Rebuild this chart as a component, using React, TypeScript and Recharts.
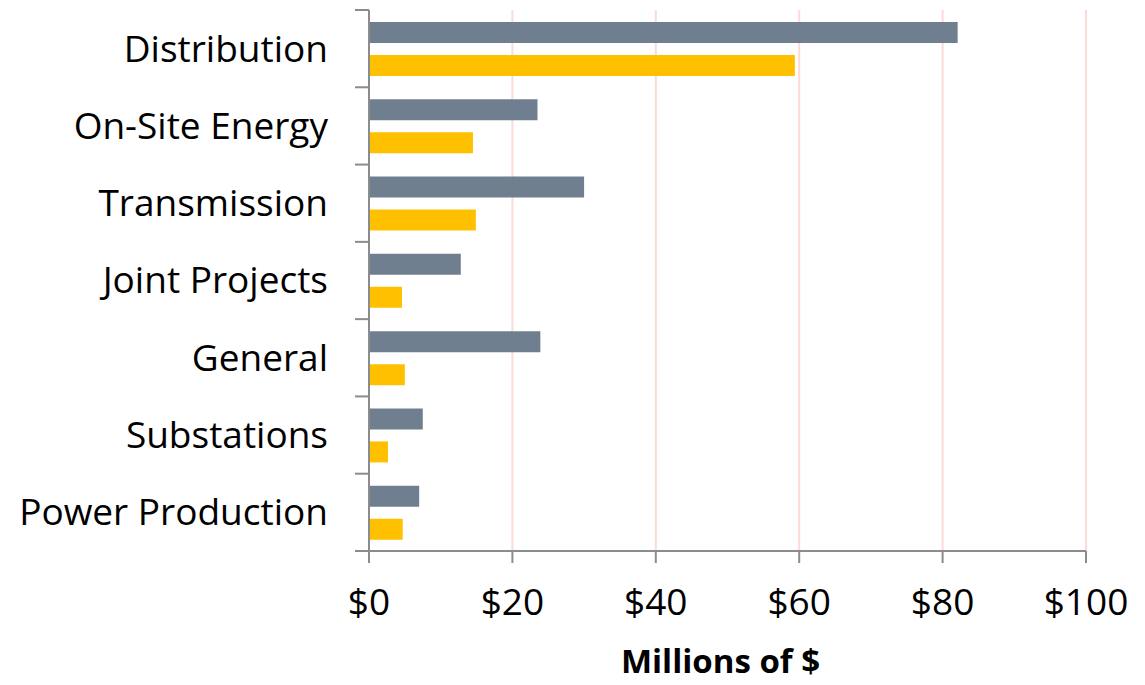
import { BarChart, Bar, XAxis, YAxis, CartesianGrid } from 'recharts'

const categories = [
  'Distribution',
  'On-Site Energy',
  'Transmission',
  'Joint Projects',
  'General',
  'Substations',
  'Power Production',
]
const grayValues = [82.1, 23.5, 30.0, 12.8, 23.9, 7.5, 7.0]
const yellowValues = [59.4, 14.5, 14.9, 4.6, 5.0, 2.65, 4.7]
const xTicks = [0, 20, 40, 60, 80, 100]

const data = categories.map((name, i) => ({
  name,
  gray: grayValues[i],
  yellow: yellowValues[i],
}))

const FONT = '"Open Sans", "Noto Sans", sans-serif'
const AXIS = '#8c8c8c'

// category ticks sit on the band edges, labels in the middle
const CategoryTick = (props: any) => {
  const { x, y, payload, index } = props
  const half = payload?.offset ?? 38.6
  return (
    <g>
      <line x1={x - 14} x2={x} y1={y - half} y2={y - half} stroke={AXIS} strokeWidth={2} />
      {index === categories.length - 1 && (
        <line x1={x - 14} x2={x} y1={y + half} y2={y + half} stroke={AXIS} strokeWidth={2} />
      )}
      <text x={x - 41} y={y} dy="0.35em" textAnchor="end" fontSize={37} fontFamily={FONT} fill="#000">
        {payload.value}
      </text>
    </g>
  )
}

export default function App() {
  return (
    <div style={{ width: 1145, height: 685, background: '#fff' }}>
      <style>{'body{margin:0}'}</style>
      <BarChart
        width={1145}
        height={685}
        data={data}
        layout="vertical"
        margin={{ top: 10, right: 59, bottom: 0, left: 0 }}
        barCategoryGap={12}
        barGap={12}
      >
        <CartesianGrid horizontal={false} stroke="#fadcd4" strokeWidth={2} />
        <XAxis
          type="number"
          domain={[0, 100]}
          ticks={xTicks}
          interval={0}
          tickFormatter={(v) => `$${v}`}
          tick={{ fontSize: 37, fontFamily: FONT, fill: '#000' }}
          tickSize={12}
          tickMargin={26}
          axisLine={{ stroke: AXIS, strokeWidth: 2 }}
          tickLine={{ stroke: AXIS, strokeWidth: 2 }}
          height={134}
          label={{
            value: 'Millions of $',
            position: 'insideBottom',
            offset: 12,
            dx: -7,
            fontSize: 33,
            fontWeight: 700,
            fontFamily: FONT,
            fill: '#000',
          }}
        />
        <YAxis
          type="category"
          dataKey="name"
          width={369}
          tickSize={0}
          tickMargin={0}
          tickLine={false}
          axisLine={{ stroke: AXIS, strokeWidth: 2 }}
          tick={<CategoryTick />}
          interval={0}
        />
        <Bar dataKey="gray" name="Gray series" fill="#6f7f8f" isAnimationActive={false} />
        <Bar dataKey="yellow" name="Yellow series" fill="#ffc000" isAnimationActive={false} />
      </BarChart>
    </div>
  )
}
